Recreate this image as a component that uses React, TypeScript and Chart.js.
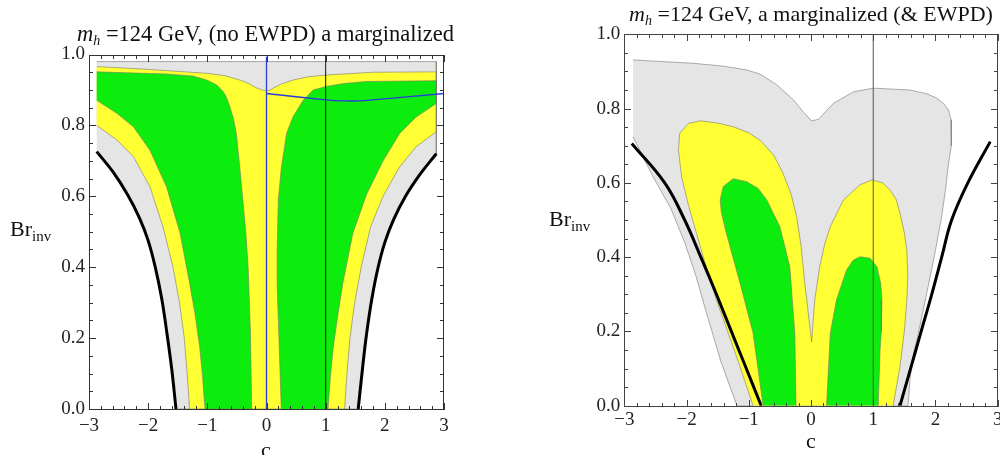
import React, { useEffect, useRef } from "react";
import { Chart, registerables } from "chart.js";
Chart.register(...registerables);

type P = [number, number];

// ---------- axis ticks ----------
const xTickValues = [-3, -2, -1, 0, 1, 2, 3];
const yTickValues = [0, 0.2, 0.4, 0.6, 0.8, 1.0];

// ---------- LEFT PANEL (no EWPD) ----------
const L_grayTop: P[] = [[-2.87, 0.98], [2.87, 0.98], [2.87, 0.72]];
const L_blackLeft: P[] = [[-1.53, 0], [-1.6, 0.11], [-1.68, 0.21], [-1.77, 0.31], [-1.88, 0.4], [-2.0, 0.475], [-2.15, 0.54], [-2.35, 0.605], [-2.6, 0.67], [-2.87, 0.726]];
const L_blackRight: P[] = [[1.55, 0], [1.62, 0.11], [1.69, 0.21], [1.78, 0.31], [1.88, 0.395], [2.0, 0.47], [2.15, 0.535], [2.35, 0.6], [2.6, 0.663], [2.87, 0.72]];
const L_yellowTop: P[] = [[-2.87, 0.966], [-2.0, 0.958], [-1.01, 0.947], [-0.7, 0.94], [-0.45, 0.928], [-0.3, 0.918], [-0.17, 0.906], [-0.06, 0.899], [0, 0.897], [0.05, 0.899], [0.11, 0.905], [0.25, 0.917], [0.45, 0.928], [0.7, 0.937], [1.01, 0.942], [1.8, 0.95], [2.87, 0.951]];
const L_yellowGrayLeft: P[] = [[-1.3, 0], [-1.34, 0.1], [-1.39, 0.2], [-1.47, 0.3], [-1.58, 0.4], [-1.75, 0.514], [-1.97, 0.627], [-2.25, 0.712], [-2.53, 0.759], [-2.87, 0.8]];
const L_yellowGrayRight: P[] = [[1.32, 0], [1.36, 0.1], [1.41, 0.2], [1.49, 0.3], [1.6, 0.4], [1.76, 0.514], [1.97, 0.6], [2.25, 0.683], [2.53, 0.74], [2.87, 0.782]];
const L_greenLeftOuter: P[] = [[-2.87, 0.951], [-1.69, 0.945], [-1.24, 0.939], [-1.01, 0.928], [-0.84, 0.914], [-0.73, 0.895], [-0.68, 0.88], [-0.62, 0.853], [-0.56, 0.82], [-0.51, 0.778], [-0.45, 0.68], [-0.4, 0.59], [-0.35, 0.5], [-0.31, 0.4], [-0.27, 0.21], [-0.25, 0]];
const L_greenLeftInner: P[] = [[-1.04, 0], [-1.08, 0.09], [-1.13, 0.176], [-1.21, 0.27], [-1.3, 0.355], [-1.46, 0.496], [-1.69, 0.627], [-1.97, 0.73], [-2.25, 0.796], [-2.53, 0.834], [-2.87, 0.871]];
const L_greenRightInner: P[] = [[0.25, 0], [0.21, 0.2], [0.18, 0.35], [0.18, 0.45], [0.2, 0.59], [0.25, 0.68], [0.34, 0.778], [0.45, 0.825], [0.62, 0.871], [0.79, 0.9], [1.01, 0.91], [1.3, 0.918], [1.69, 0.924], [2.87, 0.926]];
const L_greenRightOuter: P[] = [[1.04, 0], [1.08, 0.09], [1.13, 0.176], [1.21, 0.27], [1.29, 0.355], [1.46, 0.496], [1.69, 0.605], [1.97, 0.7], [2.25, 0.777], [2.53, 0.824], [2.87, 0.862]];
const L_blueVertical: P[] = [[0, 0], [0, 0.994]];
const L_blueCurve: P[] = [[0, 0.89], [1.0, 0.872], [1.35, 0.869], [1.65, 0.87], [3.0, 0.89]];
const L_blackVertical: P[] = [[1, 0], [1, 1]];

// ---------- RIGHT PANEL (& EWPD) ----------
const R_grayOuter: P[] = [[-2.86, 0.931], [-1.89, 0.922], [-1.4, 0.914], [-1.03, 0.904], [-0.82, 0.893], [-0.55, 0.864], [-0.28, 0.823], [-0.12, 0.79], [0.01, 0.767], [0.12, 0.771], [0.36, 0.814], [0.68, 0.845], [1.0, 0.855], [1.59, 0.85], [1.86, 0.84], [2.02, 0.828], [2.13, 0.814], [2.21, 0.796], [2.25, 0.77], [2.26, 0.742], [2.25, 0.7], [2.21, 0.653], [2.16, 0.58], [2.1, 0.509], [1.99, 0.41], [1.86, 0.303], [1.75, 0.215], [1.64, 0.132], [1.59, 0.07], [1.56, 0]];
const R_grayLeft: P[] = [[-1.19, 0], [-1.45, 0.12], [-1.68, 0.25], [-1.85, 0.35], [-2.03, 0.44], [-2.25, 0.53], [-2.55, 0.62], [-2.86, 0.724]];
const R_yellow: P[] = [[-0.93, 0], [-1.14, 0.105], [-1.34, 0.2], [-1.52, 0.285], [-1.73, 0.4], [-1.84, 0.464], [-1.97, 0.54], [-2.08, 0.617], [-2.13, 0.688], [-2.11, 0.733], [-1.97, 0.76], [-1.78, 0.767], [-1.5, 0.761], [-1.25, 0.751], [-1.0, 0.735], [-0.82, 0.715], [-0.6, 0.675], [-0.45, 0.626], [-0.32, 0.57], [-0.23, 0.509], [-0.16, 0.43], [-0.1, 0.33], [0.01, 0.172], [0.06, 0.285], [0.14, 0.374], [0.22, 0.435], [0.31, 0.482], [0.52, 0.554], [0.79, 0.595], [0.98, 0.608], [1.15, 0.6], [1.27, 0.581], [1.37, 0.555], [1.43, 0.518], [1.5, 0.465], [1.54, 0.419], [1.555, 0.35], [1.54, 0.285], [1.5, 0.2], [1.43, 0.105], [1.32, 0]];
const R_greenLeft: P[] = [[-0.77, 0], [-0.93, 0.195], [-1.14, 0.33], [-1.36, 0.464], [-1.44, 0.52], [-1.46, 0.554], [-1.41, 0.59], [-1.25, 0.611], [-1.03, 0.603], [-0.85, 0.585], [-0.71, 0.554], [-0.5, 0.482], [-0.34, 0.374], [-0.26, 0.195], [-0.24, 0]];
const R_greenRight: P[] = [[0.25, 0], [0.31, 0.195], [0.41, 0.285], [0.57, 0.365], [0.68, 0.392], [0.79, 0.401], [0.95, 0.397], [1.06, 0.374], [1.12, 0.33], [1.14, 0.285], [1.13, 0.2], [1.11, 0.15], [1.08, 0]];
const R_blackLeft: P[] = [[-0.8, 0], [-1.04, 0.1], [-1.28, 0.2], [-1.52, 0.3], [-1.77, 0.4], [-2.03, 0.5], [-2.35, 0.6], [-2.88, 0.706]];
const R_blackRight: P[] = [[1.43, 0], [1.6, 0.1], [1.77, 0.2], [1.94, 0.3], [2.1, 0.4], [2.26, 0.5], [2.52, 0.6], [2.88, 0.711]];
const R_vertical: P[] = [[1, 0], [1, 1]];

// ---------- styles ----------
const GRAY = "#e5e5e5";
const YELLOW = "#ffff33";
const GREEN = "#0ded0d";
const EDGE = "rgba(120,120,110,0.75)";
const SERIF = '"Liberation Serif", "Times New Roman", serif';

const xy = (p: P[]) => p.map(([x, y]) => ({ x, y }));
const rev = (p: P[]) => [...p].reverse();

function region(pts: P[], color: string, order: number) {
  return {
    data: xy(pts),
    backgroundColor: color,
    borderColor: EDGE,
    borderWidth: 0.8,
    pointRadius: 0,
    tension: 0,
    fill: "shape",
    order,
  };
}
function curve(pts: P[], color: string, width: number, order: number, tension = 0.4) {
  return {
    data: xy(pts),
    borderColor: color,
    borderWidth: width,
    pointRadius: 0,
    tension,
    fill: false,
    order,
  };
}

const framePlugin = {
  id: "frame",
  afterDraw(chart: any, _a: any, opts: any) {
    const ctx: CanvasRenderingContext2D = chart.ctx;
    const a = chart.chartArea;
    const x = chart.scales.x, y = chart.scales.y;
    const color = (opts && opts.color) || "#444";
    ctx.save();
    ctx.fillStyle = color;
    const L = Math.round(a.left), R = Math.round(a.right) - 1;
    const T = Math.round(a.top), B = Math.round(a.bottom);
    // frame
    ctx.fillRect(L, T, R - L + 1, 1);
    ctx.fillRect(L, B, R - L + 1, 1);
    ctx.fillRect(L, T, 1, B - T + 1);
    ctx.fillRect(R, T, 1, B - T + 1);
    // x ticks (major every 1, minor every 0.2)
    for (let k = -15; k <= 15; k++) {
      const len = Math.abs(k) % 5 === 0 ? 7 : 4;
      const px = Math.round(x.getPixelForValue(k * 0.2));
      ctx.fillRect(px, B - len + 1, 1, len);
      ctx.fillRect(px, T, 1, len);
    }
    // y ticks (major every 0.2, minor every 0.05)
    for (let k = 0; k <= 20; k++) {
      const len = k % 4 === 0 ? 7 : 4;
      const py = Math.round(y.getPixelForValue(k * 0.05));
      ctx.fillRect(L, py, len, 1);
      ctx.fillRect(R - len + 1, py, len, 1);
    }
    ctx.restore();
  },
};

function makeConfig(datasets: any[], g: { left: number; top: number; right: number; bottom: number; w: number; h: number; xpad: number }, fontSize: number, frameColor: string): any {
  return {
    type: "line",
    data: { datasets },
    options: {
      responsive: false,
      animation: false,
      events: [],
      layout: { padding: { left: 0, top: g.top, right: g.w - g.right, bottom: 0 } },
      plugins: { legend: { display: false }, tooltip: { enabled: false }, title: { display: false }, frame: { color: frameColor } },
      scales: {
        x: {
          type: "linear",
          min: -3,
          max: 3,
          afterFit: (s: any) => { s.height = g.h - g.bottom; s.paddingLeft = 0; s.paddingRight = 0; },
          afterBuildTicks: (s: any) => { s.ticks = xTickValues.map((v) => ({ value: v })); },
          ticks: {
            autoSkip: false,
            maxRotation: 0,
            padding: g.xpad,
            color: "#222",
            font: { family: SERIF, size: fontSize },
            callback: (v: number) => (v < 0 ? "\u2212" + Math.abs(v) : String(v)),
          },
          grid: { display: false, drawTicks: false },
          border: { display: false },
        },
        y: {
          type: "linear",
          min: 0,
          max: 1,
          afterFit: (s: any) => { s.width = g.left; s.paddingTop = 0; s.paddingBottom = 0; },
          afterBuildTicks: (s: any) => { s.ticks = yTickValues.map((v) => ({ value: v })); },
          ticks: {
            autoSkip: false,
            padding: 4,
            color: "#222",
            font: { family: SERIF, size: fontSize },
            callback: (v: number) => Number(v).toFixed(1),
          },
          grid: { display: false, drawTicks: false },
          border: { display: false },
        },
      },
    },
    plugins: [framePlugin],
  };
}

const leftDatasets = () => [
  region([...L_grayTop, ...rev(L_blackRight), ...L_blackLeft], GRAY, 10),
  region([...L_yellowTop, ...rev(L_yellowGrayRight), ...L_yellowGrayLeft], YELLOW, 9),
  region([...L_greenLeftOuter, ...L_greenLeftInner], GREEN, 8),
  region([...L_greenRightInner, ...rev(L_greenRightOuter)], GREEN, 7),
  curve(L_blackLeft, "#000", 3, 4),
  curve(L_blackRight, "#000", 3, 4),
  curve(L_blackVertical, "#111", 1, 3, 0),
  curve(L_blueVertical, "#2a3bd8", 1.3, 2, 0),
  curve(L_blueCurve, "#2a3bd8", 1.3, 2, 0.2),
];

const rightDatasets = () => [
  region([...R_grayOuter, ...R_grayLeft], GRAY, 10),
  region(R_yellow, YELLOW, 9),
  region(R_greenLeft, GREEN, 8),
  region(R_greenRight, GREEN, 7),
  curve(R_blackLeft, "#000", 3, 4),
  curve(R_blackRight, "#000", 3, 4),
  curve(R_vertical, "#555", 1, 3, 0),
];

const abs = (s: any): React.CSSProperties => ({ position: "absolute", whiteSpace: "nowrap", lineHeight: 1, fontFamily: SERIF, color: "#111", ...s });

export default function App() {
  const leftRef = useRef<HTMLCanvasElement>(null);
  const rightRef = useRef<HTMLCanvasElement>(null);
  useEffect(() => {
    const c1 = new Chart(leftRef.current as HTMLCanvasElement, makeConfig(leftDatasets(), { left: 89, top: 54.5, right: 444, bottom: 409, w: 500, h: 455, xpad: 6 }, 19, "#333"));
    const c2 = new Chart(rightRef.current as HTMLCanvasElement, makeConfig(rightDatasets(), { left: 124.3, top: 34.3, right: 497.7, bottom: 405.7, w: 500, h: 455, xpad: 3 }, 19, "#444"));
    return () => { c1.destroy(); c2.destroy(); };
  }, []);
  return (
    <div style={{ position: "absolute", left: 0, top: 0, width: 1000, height: 455, overflow: "hidden", background: "#fff" }}>
      <canvas ref={leftRef} width={500} height={455} style={{ position: "absolute", left: 0, top: 0 }} />
      <canvas ref={rightRef} width={500} height={455} style={{ position: "absolute", left: 500, top: 0 }} />
      <div style={abs({ left: 265.5, top: 23, fontSize: 22.5, transform: "translateX(-50%)" })}>
        <i>m</i><sub style={{ fontSize: 14, verticalAlign: "-4px" }}><i>h</i></sub> =124 GeV, (no EWPD) a marginalized
      </div>
      <div style={abs({ left: 811, top: 3, fontSize: 22, transform: "translateX(-50%)" })}>
        <i>m</i><sub style={{ fontSize: 14, verticalAlign: "-4px" }}><i>h</i></sub> =124 GeV, a marginalized (&amp; EWPD)
      </div>
      <div style={abs({ left: 10, top: 218, fontSize: 22 })}>
        Br<sub style={{ fontSize: 15, verticalAlign: "-5px" }}>inv</sub>
      </div>
      <div style={abs({ left: 549, top: 208, fontSize: 22 })}>
        Br<sub style={{ fontSize: 15, verticalAlign: "-5px" }}>inv</sub>
      </div>
      <div style={abs({ left: 266, top: 439, fontSize: 22, transform: "translateX(-50%)" })}>c</div>
      <div style={abs({ left: 811, top: 430, fontSize: 22, transform: "translateX(-50%)" })}>c</div>
    </div>
  );
}
